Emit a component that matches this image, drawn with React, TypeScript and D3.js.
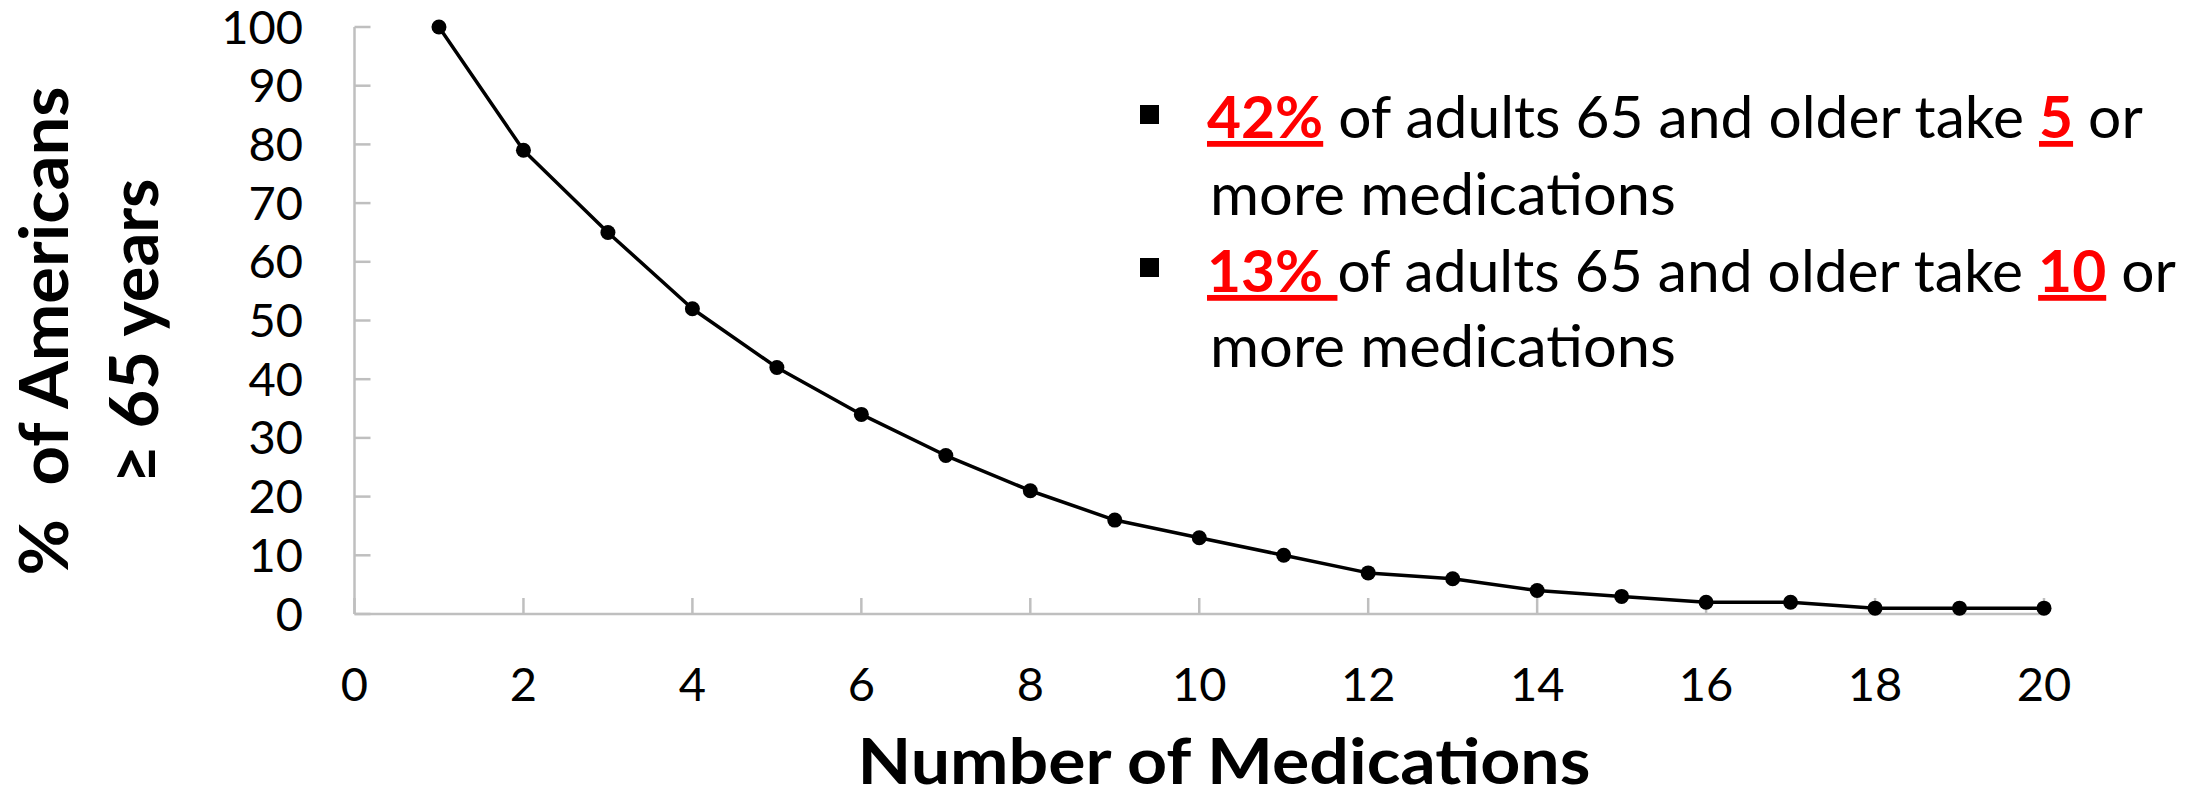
import React, { useLayoutEffect, useRef, useState } from "react";
import * as d3 from "d3";

const medications = [1, 2, 3, 4, 5, 6, 7, 8, 9, 10, 11, 12, 13, 14, 15, 16, 17, 18, 19, 20];
const percentAmericans = [100, 79, 65, 52, 42, 34, 27, 21, 16, 13, 10, 7, 6, 4, 3, 2, 2, 1, 1, 1];
const xTicks = [0, 2, 4, 6, 8, 10, 12, 14, 16, 18, 20];
const yTicks = [0, 10, 20, 30, 40, 50, 60, 70, 80, 90, 100];
const xTitle = "Number of Medications";
const yTitle1 = "%  of Americans";
const yTitle2 = "\u2265 65 years";

const FONT = "Lato, 'Open Sans', 'DejaVu Sans', sans-serif";
const AXIS_GREY = "#BFBFBF";
const RED = "#FF0000";

type FitProps = {
  x: number;
  y: number;
  width: number;
  anchor?: "start" | "middle" | "end";
  fontSize: number;
  fontWeight?: number | string;
  rotate?: number;
  children: React.ReactNode;
};

function FitText({ x, y, width, anchor = "start", fontSize, fontWeight = 400, rotate = 0, children }: FitProps) {
  const ref = useRef<SVGTextElement>(null);
  const [s, setS] = useState(1);
  useLayoutEffect(() => {
    if (ref.current) {
      const w = ref.current.getBBox().width;
      if (w > 0) setS(width / w);
    }
  }, [width, fontSize]);
  return (
    <g transform={`translate(${x},${y}) rotate(${rotate}) scale(${s},1)`}>
      <text
        ref={ref}
        x={0}
        y={0}
        textAnchor={anchor}
        fontFamily={FONT}
        fontSize={fontSize}
        fontWeight={fontWeight}
        fill="#000"
        style={{ whiteSpace: "pre" }}
      >
        {children}
      </text>
    </g>
  );
}

export default function App() {
  const W = 2198;
  const H = 794;
  const x = d3.scaleLinear().domain([0, 20]).range([354.5, 2044]);
  const y = d3.scaleLinear().domain([0, 100]).range([614, 27]);
  const pts = medications.map((m, i) => [m, percentAmericans[i]] as [number, number]);
  const line = d3
    .line<[number, number]>()
    .x((d) => x(d[0]))
    .y((d) => y(d[1]));

  const redStyle = { fill: RED, fontWeight: 700, textDecoration: "underline" } as React.CSSProperties;

  return (
    <svg
      width={W}
      height={H}
      viewBox={`0 0 ${W} ${H}`}
      style={{ position: "absolute", left: 0, top: 0, background: "#fff" }}
    >
      <rect x={0} y={0} width={W} height={H} fill="#fff" />
      {/* axes */}
      <line x1={x(0)} x2={x(0)} y1={y(100)} y2={y(0)} stroke={AXIS_GREY} strokeWidth={2.5} />
      <line x1={x(0)} x2={x(20)} y1={y(0)} y2={y(0)} stroke={AXIS_GREY} strokeWidth={2.5} />
      {yTicks.map((t) => (
        <g key={`yt${t}`}>
          <line x1={x(0)} x2={x(0) + 16} y1={y(t)} y2={y(t)} stroke={AXIS_GREY} strokeWidth={2.5} />
          <text
            x={303}
            y={y(t) + 16.5}
            textAnchor="end"
            fontFamily={FONT}
            fontSize={47}
            fill="#000"
          >
            {t}
          </text>
        </g>
      ))}
      {xTicks.map((t) => (
        <g key={`xt${t}`}>
          <line x1={x(t)} x2={x(t)} y1={y(0)} y2={y(0) - 16} stroke={AXIS_GREY} strokeWidth={2.5} />
          <text x={x(t)} y={701} textAnchor="middle" fontFamily={FONT} fontSize={47} fill="#000">
            {t}
          </text>
        </g>
      ))}

      {/* series */}
      <path d={line(pts) || ""} fill="none" stroke="#000" strokeWidth={3.5} strokeLinejoin="round" />
      {pts.map((p) => (
        <circle key={`p${p[0]}`} cx={x(p[0])} cy={y(p[1])} r={7.5} fill="#000" />
      ))}

      {/* axis titles */}
      <FitText x={1224} y={784} width={733} anchor="middle" fontSize={64} fontWeight={700}>
        {xTitle}
      </FitText>
      <FitText x={68} y={331} width={489} anchor="middle" fontSize={66} fontWeight={700} rotate={-90}>
        {yTitle1}
      </FitText>
      <FitText x={158} y={331} width={305} anchor="middle" fontSize={66} fontWeight={700} rotate={-90}>
        {yTitle2}
      </FitText>

      {/* annotations */}
      <rect x={1140} y={105} width={19} height={19} fill="#000" />
      <rect x={1140} y={258} width={19} height={19} fill="#000" />
      <FitText x={1207} y={138} width={936} fontSize={58}>
        <tspan style={redStyle}>42%</tspan>
        <tspan>{" of adults 65 and older take "}</tspan>
        <tspan style={redStyle}>5</tspan>
        <tspan>{" or"}</tspan>
      </FitText>
      <FitText x={1210} y={215} width={466} fontSize={58}>
        more medications
      </FitText>
      <FitText x={1207} y={292} width={969} fontSize={58}>
        <tspan style={redStyle}>{"13% "}</tspan>
        <tspan>{"of adults 65 and older take "}</tspan>
        <tspan style={redStyle}>10</tspan>
        <tspan>{" or"}</tspan>
      </FitText>
      <FitText x={1210} y={367} width={466} fontSize={58}>
        more medications
      </FitText>
    </svg>
  );
}
